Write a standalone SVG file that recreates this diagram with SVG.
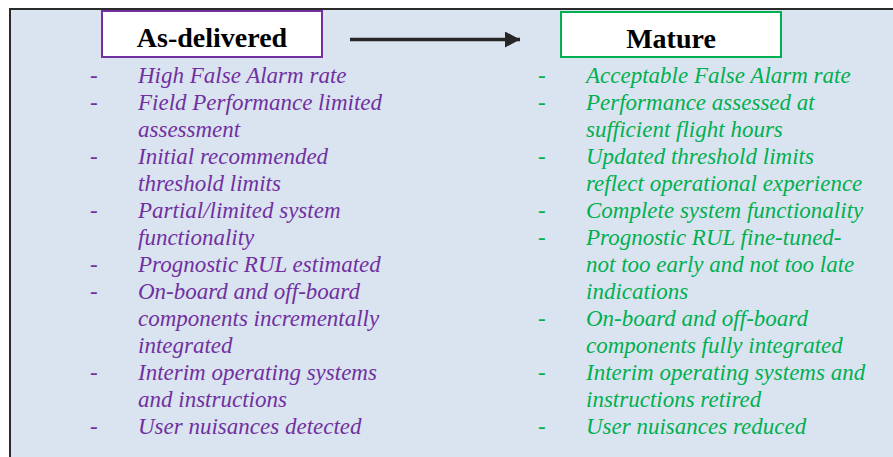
<svg xmlns="http://www.w3.org/2000/svg" width="893" height="457" viewBox="0 0 893 457">
<style>
.frame{fill:#dae3f0;stroke:#2a2a2a;stroke-width:2}
.hbox{fill:#ffffff;stroke-width:2}
.head{font-family:"Liberation Serif","Times New Roman",serif;font-weight:bold;font-size:28px;fill:#000;text-anchor:middle}
.item{font-family:"Liberation Serif","Times New Roman",serif;font-style:italic;font-size:23px}
.dash{font-family:"Liberation Serif","Times New Roman",serif;font-size:23px}
.p{fill:#7030a0}
.g{fill:#00b050}
</style>
<defs>
<marker id="ah" markerWidth="15" markerHeight="16" refX="15" refY="8" orient="auto" markerUnits="userSpaceOnUse">
<path d="M0,0 L15,8 L0,16 Z" fill="#262626"/>
</marker>
</defs>
<rect x="10" y="9" width="893" height="460" class="frame"/>
<g id="connectors">
<line x1="350" y1="39.5" x2="520" y2="39.5" stroke="#262626" stroke-width="3.5" marker-end="url(#ah)"/>
</g>
<g id="as-delivered">
<rect x="102" y="11" width="220" height="46" class="hbox" stroke="#7030a0"/>
<text x="212" y="47" class="head">As-delivered</text>
<g class="p">
<text x="90" y="83" class="dash">-</text><text x="138" y="83" class="item">High False Alarm rate</text>
<text x="90" y="110" class="dash">-</text><text x="138" y="110" class="item">Field Performance limited</text>
<text x="138" y="137" class="item">assessment</text>
<text x="90" y="164" class="dash">-</text><text x="138" y="164" class="item">Initial recommended</text>
<text x="138" y="191" class="item">threshold limits</text>
<text x="90" y="218" class="dash">-</text><text x="138" y="218" class="item">Partial/limited system</text>
<text x="138" y="245" class="item">functionality</text>
<text x="90" y="272" class="dash">-</text><text x="138" y="272" class="item">Prognostic RUL estimated</text>
<text x="90" y="299" class="dash">-</text><text x="138" y="299" class="item">On-board and off-board</text>
<text x="138" y="326" class="item">components incrementally</text>
<text x="138" y="353" class="item">integrated</text>
<text x="90" y="380" class="dash">-</text><text x="138" y="380" class="item">Interim operating systems</text>
<text x="138" y="407" class="item">and instructions</text>
<text x="90" y="434" class="dash">-</text><text x="138" y="434" class="item">User nuisances detected</text>
</g>
</g>
<g id="mature">
<rect x="561" y="12" width="220" height="45" class="hbox" stroke="#00b050"/>
<text x="671" y="48" class="head">Mature</text>
<g class="g">
<text x="538" y="83" class="dash">-</text><text x="586" y="83" class="item">Acceptable False Alarm rate</text>
<text x="538" y="110" class="dash">-</text><text x="586" y="110" class="item">Performance assessed at</text>
<text x="586" y="137" class="item">sufficient flight hours</text>
<text x="538" y="164" class="dash">-</text><text x="586" y="164" class="item">Updated threshold limits</text>
<text x="586" y="191" class="item">reflect operational experience</text>
<text x="538" y="218" class="dash">-</text><text x="586" y="218" class="item">Complete system functionality</text>
<text x="538" y="245" class="dash">-</text><text x="586" y="245" class="item">Prognostic RUL fine-tuned-</text>
<text x="586" y="272" class="item">not too early and not too late</text>
<text x="586" y="299" class="item">indications</text>
<text x="538" y="326" class="dash">-</text><text x="586" y="326" class="item">On-board and off-board</text>
<text x="586" y="353" class="item">components fully integrated</text>
<text x="538" y="380" class="dash">-</text><text x="586" y="380" class="item">Interim operating systems and</text>
<text x="586" y="407" class="item">instructions retired</text>
<text x="538" y="434" class="dash">-</text><text x="586" y="434" class="item">User nuisances reduced</text>
</g>
</g>
</svg>
